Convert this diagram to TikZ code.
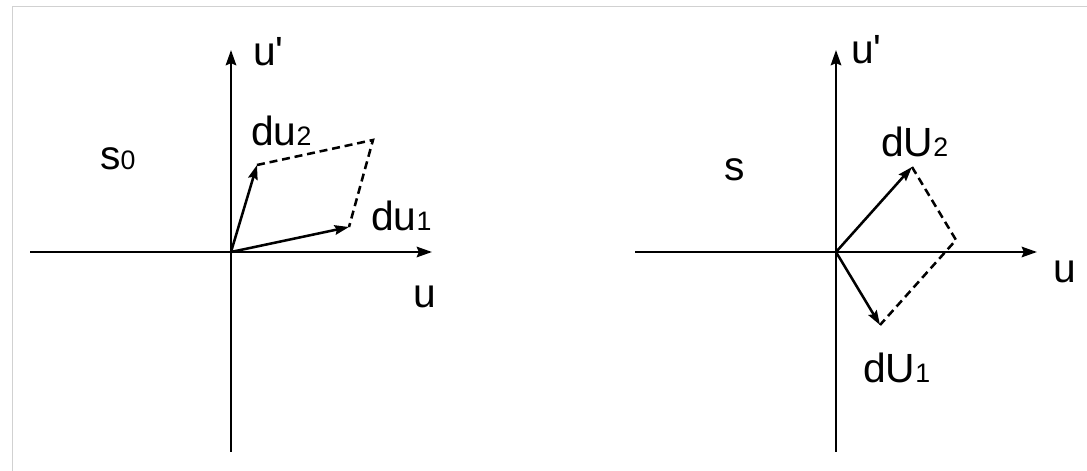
\documentclass[tikz,border=0pt]{standalone}
\usepackage{fontspec}
\setmainfont{Liberation Sans}[Ligatures=TeXOff]
\usetikzlibrary{arrows.meta}
\newcommand{\subdig}[1]{{\fontsize{19}{19}\selectfont #1}}
\tikzset{
    axisline/.style={line width=1.8pt, -{Stealth[length=0.38cm, width=0.26cm, inset=0.05cm]}},
    vecline/.style={line width=1.8pt, -{Stealth[length=0.36cm, width=0.24cm, inset=0.05cm]}},
    sideline/.style={line width=1.8pt, dash pattern=on 0.2cm off 0.12cm},
    lbl/.style={anchor=base west, inner sep=0pt},
}

\begin{document}
\begin{tikzpicture}[x=0.025cm, y=-0.025cm, font=\fontsize{29}{34}\selectfont]
    \useasboundingbox (0,0) rectangle (1087,471);
    \draw[black!18, line width=0.6pt] (12,471) -- (12,6) -- (1087,6);

    % left plane s0
    \coordinate (xl0) at (30,252);
    \coordinate (xl1) at (432,252);
    \coordinate (yl0) at (231,452);
    \coordinate (yl1) at (231,50);
    \coordinate (o1) at (231,252);
    \coordinate (a1) at (349,227);
    \coordinate (b1) at (257,165);
    \coordinate (c1) at (373,140);
    \draw[axisline] (xl0) -- (xl1);
    \draw[axisline] (yl0) -- (yl1);
    \draw[vecline] (o1) -- (a1);
    \draw[vecline] (o1) -- (b1);
    \draw[sideline] (b1) -- (c1) -- (a1);
    \node[lbl] (ul) at (253,66) {u'};
    \node[lbl] (s0) at (100,170) {s\subdig{0}};
    \node[lbl] (du2) at (251,146) {du\subdig{2}};
    \node[lbl] (du1) at (371,231) {du\subdig{1}};
    \node[lbl] (xl) at (413,308) {u};

    % right plane s
    \coordinate (xr0) at (635,252);
    \coordinate (xr1) at (1037,252);
    \coordinate (yr0) at (836,452);
    \coordinate (yr1) at (836,50);
    \coordinate (o2) at (836,252);
    \coordinate (a2) at (880,325);
    \coordinate (b2) at (912,167);
    \coordinate (c2) at (956,240);
    \draw[axisline] (xr0) -- (xr1);
    \draw[axisline] (yr0) -- (yr1);
    \draw[vecline] (o2) -- (a2);
    \draw[vecline] (o2) -- (b2);
    \draw[sideline] (b2) -- (c2) -- (a2);
    \node[lbl] (ur) at (851,64) {u'};
    \node[lbl] (s) at (724,181) {s};
    \node[lbl] (dU2) at (881,157) {dU\subdig{2}};
    \node[lbl] (dU1) at (863,383) {dU\subdig{1}};
    \node[lbl] (xr) at (1053,283) {u};
\end{tikzpicture}
\end{document}
